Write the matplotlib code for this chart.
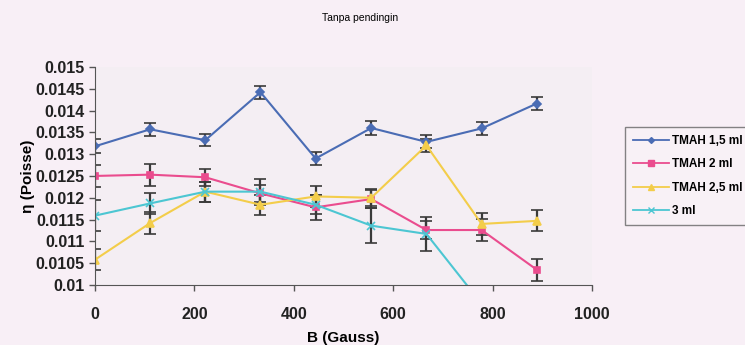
import numpy as np
from matplotlib import pyplot as plt
from matplotlib.lines import Line2D

plt.rcParams['font.family'] = ['Liberation Sans', 'DejaVu Sans']

# magnetic field strength (Gauss)
b_gauss = [0, 111, 222, 333, 444, 556, 667, 778, 889]

# viscosity readings (Poise) and their error margins
tmah_15 = [0.01318, 0.01357, 0.01332, 0.01442, 0.0129, 0.0136, 0.01328, 0.01359, 0.01416]
tmah_15_err = [0.00016, 0.00015, 0.00014, 0.00015, 0.00015, 0.00016, 0.00015, 0.00014, 0.00015]

tmah_2 = [0.0125, 0.01253, 0.01247, 0.0121, 0.01178, 0.01197, 0.01126, 0.01126, 0.01035]
tmah_2_err = [0.00025, 0.00025, 0.0002, 0.0002, 0.00028, 0.0002, 0.0002, 0.00025, 0.00025]

tmah_25 = [0.01058, 0.01142, 0.01214, 0.01184, 0.01203, 0.012, 0.0132, 0.0114, 0.01147]
tmah_25_err = [0.00024, 0.00025, 0.00023, 0.00023, 0.00025, 0.0002, 0.00015, 0.00025, 0.00024]

ml_3 = [0.01159, 0.01187, 0.01214, 0.01214, 0.01184, 0.01136, 0.01117, 0.00957]
ml_3_err = [0.00036, 0.00025, 0.00023, 0.0003, 0.00022, 0.0004, 0.0004, 0.0002]

bg = '#f8eff6'
fig = plt.figure(figsize=(7.45, 3.45), dpi=100, facecolor=bg)
ax = fig.add_axes([0.1275, 0.174, 0.667, 0.632])
ax.set_facecolor('#f4eef3')

series = [
    (tmah_15, tmah_15_err, '#4a6cb4', 'D', 4, 'TMAH 1,5 ml', b_gauss),
    (tmah_2, tmah_2_err, '#ea4c8e', 's', 5, 'TMAH 2 ml', b_gauss),
    (tmah_25, tmah_25_err, '#f3cd4a', '^', 6, 'TMAH 2,5 ml', b_gauss),
    (ml_3, ml_3_err, '#4cc6d2', 'x', 6, '3 ml', b_gauss[:len(ml_3)]),
]

handles = []
for vals, err, col, mk, ms, lab, xs in series:
    ax.errorbar(xs, vals, yerr=err, color=col, marker=mk, markersize=ms,
                markeredgewidth=1.2, linewidth=1.5, ecolor='#3a3a3a',
                elinewidth=1.6, capsize=4, capthick=1.6)
    handles.append(Line2D([], [], color=col, marker=mk, markersize=ms - 1,
                          markeredgewidth=1, linewidth=1.3, label=lab))

ax.set_xlim(0, 1000)
ax.set_ylim(0.01, 0.015)
ax.set_xticks(np.arange(0, 1001, 200))
yt = np.arange(0.01, 0.01501, 0.0005)
ax.set_yticks(yt)
ax.set_yticklabels([('%.4f' % v).rstrip('0') for v in yt])

for s in ['top', 'right']:
    ax.spines[s].set_visible(False)
for s in ['left', 'bottom']:
    ax.spines[s].set_color('#555555')
ax.tick_params(axis='both', direction='out', length=4, color='#555555',
               labelsize=11.5, width=1)
ax.tick_params(axis='x', pad=12)
for t in ax.get_xticklabels() + ax.get_yticklabels():
    t.set_fontweight('bold')
    t.set_color('#222222')

ax.set_xlabel('B (Gauss)', fontsize=11, fontweight='bold', labelpad=6)
ax.set_ylabel('η (Poisse)', fontsize=11, fontweight='bold', labelpad=0)
fig.text(0.483, 0.948, 'Tanpa pendingin', ha='center', va='center', fontsize=7.5)

leg = fig.legend(handles=handles, loc='upper left', bbox_to_anchor=(0.839, 0.632),
                 fontsize=8.5, frameon=True, fancybox=False, edgecolor='#666666',
                 facecolor='#f8f2f7', handlelength=3, handletextpad=0.3,
                 labelspacing=0.95, borderaxespad=0, borderpad=0.7)
leg.get_frame().set_linewidth(1)
for t in leg.get_texts():
    t.set_fontweight('bold')

fig.savefig('out.png', dpi=100, facecolor=bg)
